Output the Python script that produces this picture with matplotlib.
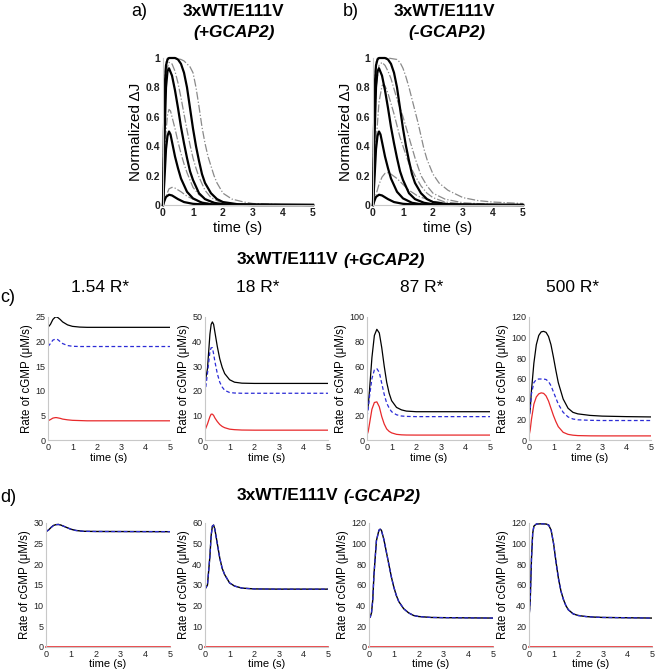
import numpy as np
import matplotlib.pyplot as plt

plt.rcParams['font.family'] = ['Liberation Sans', 'DejaVu Sans']

W, H = 655, 672

# ---------- data: top panels (normalized dJ) ----------
# solid black curves (same model in a and b)
t_s1 = [0, 0.05, 0.1, 0.2, 0.3, 0.5, 0.7, 1.0, 1.5, 2, 5]
v_s1 = [0, 0.03, 0.055, 0.07, 0.065, 0.04, 0.02, 0.008, 0.002, 0, 0]
t_s2 = [0, 0.05, 0.1, 0.15, 0.2, 0.25, 0.3, 0.4, 0.5, 0.6, 0.8, 1.0, 1.3, 1.6, 2, 3, 5]
v_s2 = [0, 0.18, 0.38, 0.47, 0.5, 0.48, 0.43, 0.33, 0.25, 0.18, 0.09, 0.045, 0.015, 0.005, 0.002, 0, 0]
t_s3 = [0, 0.05, 0.1, 0.15, 0.2, 0.3, 0.4, 0.5, 0.6, 0.7, 0.8, 0.9, 1.0, 1.2, 1.4, 1.7, 2, 3, 5]
v_s3 = [0, 0.45, 0.8, 0.91, 0.93, 0.88, 0.78, 0.66, 0.53, 0.42, 0.32, 0.23, 0.17, 0.08, 0.04, 0.015, 0.005, 0, 0]
t_s4 = [0, 0.03, 0.07, 0.1, 0.15, 0.2, 0.3, 0.4, 0.5, 0.6, 0.7, 0.8, 0.9, 1.0, 1.1, 1.2, 1.3, 1.4, 1.6, 1.8, 2.0, 2.5, 5]
v_s4 = [0, 0.5, 0.85, 0.95, 0.99, 1.0, 1.0, 1.0, 0.99, 0.96, 0.9, 0.8, 0.66, 0.52, 0.4, 0.3, 0.21, 0.15, 0.08, 0.04, 0.02, 0.005, 0]

# dash-dot gray curves, panel a (+GCAP2)
t_a1 = [0, 0.1, 0.2, 0.3, 0.4, 0.6, 0.8, 1.0, 1.3, 1.6, 2, 3, 5]
v_a1 = [0, 0.06, 0.11, 0.12, 0.115, 0.09, 0.06, 0.04, 0.02, 0.01, 0.005, 0, 0]
t_a2 = [0, 0.05, 0.1, 0.15, 0.2, 0.25, 0.3, 0.4, 0.5, 0.6, 0.7, 0.8, 1.0, 1.2, 1.5, 1.8, 2.2, 3, 5]
v_a2 = [0, 0.25, 0.5, 0.61, 0.65, 0.64, 0.6, 0.52, 0.43, 0.35, 0.28, 0.22, 0.12, 0.07, 0.03, 0.012, 0.005, 0, 0]
t_a3 = [0, 0.05, 0.1, 0.15, 0.2, 0.3, 0.4, 0.5, 0.6, 0.7, 0.8, 0.9, 1.0, 1.1, 1.2, 1.4, 1.6, 1.9, 2.3, 3, 5]
v_a3 = [0, 0.5, 0.85, 0.94, 0.97, 0.96, 0.91, 0.83, 0.73, 0.62, 0.51, 0.41, 0.32, 0.25, 0.19, 0.1, 0.05, 0.02, 0.007, 0, 0]
t_a4 = [0, 0.03, 0.07, 0.1, 0.15, 0.2, 0.4, 0.6, 0.7, 0.8, 0.9, 1.0, 1.1, 1.2, 1.3, 1.4, 1.5, 1.7, 1.8, 2.0, 2.3, 2.7, 3, 4, 5]
v_a4 = [0, 0.6, 0.9, 0.97, 1.0, 1.0, 1.0, 0.99, 0.98, 0.96, 0.94, 0.9, 0.8, 0.67, 0.53, 0.42, 0.33, 0.2, 0.15, 0.08, 0.04, 0.02, 0.01, 0.002, 0]

# dash-dot gray curves, panel b (-GCAP2)
t_b1 = [0, 0.1, 0.2, 0.3, 0.4, 0.5, 0.6, 0.8, 1.0, 1.2, 1.5, 2, 2.5, 3, 4, 5]
v_b1 = [0, 0.07, 0.14, 0.19, 0.215, 0.22, 0.21, 0.18, 0.14, 0.1, 0.06, 0.025, 0.01, 0.005, 0.001, 0]
t_b2 = [0, 0.05, 0.1, 0.2, 0.3, 0.35, 0.4, 0.5, 0.6, 0.7, 0.8, 0.9, 1.0, 1.1, 1.2, 1.4, 1.6, 1.8, 2.0, 2.4, 3, 4, 5]
v_b2 = [0, 0.2, 0.42, 0.7, 0.81, 0.82, 0.81, 0.76, 0.69, 0.62, 0.54, 0.46, 0.4, 0.34, 0.28, 0.2, 0.13, 0.08, 0.05, 0.02, 0.008, 0.002, 0]
t_b3 = [0, 0.05, 0.1, 0.2, 0.3, 0.4, 0.5, 0.6, 0.7, 0.8, 0.9, 1.0, 1.1, 1.2, 1.4, 1.6, 1.8, 2.0, 2.4, 3, 4, 5]
v_b3 = [0, 0.45, 0.8, 0.95, 0.97, 0.95, 0.91, 0.86, 0.79, 0.72, 0.66, 0.6, 0.53, 0.46, 0.32, 0.2, 0.13, 0.08, 0.04, 0.015, 0.004, 0]
t_b4 = [0, 0.03, 0.07, 0.1, 0.15, 0.2, 0.5, 0.8, 0.9, 1.0, 1.1, 1.2, 1.3, 1.4, 1.5, 1.6, 1.7, 1.8, 2.0, 2.2, 2.5, 3, 3.5, 4, 5]
v_b4 = [0, 0.6, 0.9, 0.97, 1.0, 1.0, 1.0, 0.99, 0.97, 0.93, 0.87, 0.8, 0.72, 0.64, 0.56, 0.47, 0.38, 0.31, 0.21, 0.15, 0.1, 0.05, 0.03, 0.02, 0.01]

# ---------- data: row c (+GCAP2), rate of cGMP ----------
r_labels = ['1.54 R*', '18 R*', '87 R*', '500 R*']

t_c1 = [0, 0.1, 0.2, 0.3, 0.35, 0.4, 0.5, 0.6, 0.8, 1.0, 1.3, 1.6, 2, 5]
k_c1 = [22.9, 23.5, 24.5, 25.0, 25.0, 24.9, 24.5, 24.0, 23.4, 23.1, 22.95, 22.9, 22.9, 22.9]
b_c1 = [19, 19.6, 20.3, 20.5, 20.5, 20.4, 20.0, 19.6, 19.2, 19.05, 19, 19, 19, 19]
r_c1 = [3.9, 4.15, 4.45, 4.55, 4.55, 4.5, 4.4, 4.25, 4.1, 4.0, 3.95, 3.9, 3.9, 3.9]

t_c2 = [0, 0.1, 0.2, 0.25, 0.3, 0.35, 0.4, 0.5, 0.6, 0.7, 0.8, 1.0, 1.2, 1.5, 2, 3, 5]
k_c2 = [23, 29, 43, 47, 48, 47, 44, 38, 33, 29.5, 27, 24.5, 23.5, 23.1, 23, 23, 23]
b_c2 = [19, 27, 36, 37.5, 37.5, 35, 32, 27, 23.5, 21.5, 20.2, 19.3, 19.1, 19, 19, 19, 19]
r_c2 = [4, 6.5, 9.5, 10.5, 10.5, 10, 9, 7.5, 6.3, 5.5, 5, 4.4, 4.2, 4.05, 4, 4, 4]

t_c3 = [0, 0.05, 0.1, 0.2, 0.3, 0.4, 0.5, 0.6, 0.7, 0.8, 0.9, 1.0, 1.2, 1.4, 1.6, 2, 3, 5]
k_c3 = [23, 28, 40, 67, 85, 90, 87, 75, 60, 47, 38, 32, 26.5, 24.5, 23.5, 23, 23, 23]
b_c3 = [19, 25, 35, 50, 57, 58, 55, 46, 37, 30, 26, 23, 20.5, 19.5, 19.2, 19, 19, 19]
r_c3 = [4, 7, 13, 25, 30.5, 31, 27, 19, 13, 9, 7, 5.8, 4.6, 4.2, 4.05, 4, 4, 4]

t_c4 = [0, 0.05, 0.1, 0.2, 0.3, 0.4, 0.5, 0.6, 0.7, 0.8, 0.9, 1.0, 1.1, 1.2, 1.4, 1.6, 1.8, 2.0, 2.5, 3, 4, 5]
k_c4 = [23, 30, 48, 75, 93, 102, 105.5, 106, 105, 101, 93, 81, 68, 56, 40, 31, 27, 25.5, 24, 23.3, 22.8, 22.5]
b_c4 = [19, 30, 45, 56, 59, 59.5, 59.5, 59.5, 59, 57, 53, 47, 41, 35, 27, 22.5, 20.5, 19.7, 19.2, 19, 19, 19]
r_c4 = [4, 10, 20, 35, 42, 45, 46, 45.5, 43, 38, 31, 24, 18, 13, 7.5, 5.5, 4.7, 4.3, 4.05, 4, 4, 4]

# ---------- data: row d (-GCAP2) ----------
t_d1 = [0, 0.1, 0.2, 0.3, 0.4, 0.5, 0.6, 0.8, 1.0, 1.2, 1.5, 2, 5]
k_d1 = [27.9, 28.3, 28.9, 29.4, 29.6, 29.65, 29.5, 29.0, 28.5, 28.2, 28.0, 27.95, 27.9]
t_d2 = [0, 0.1, 0.2, 0.25, 0.3, 0.35, 0.4, 0.5, 0.6, 0.7, 0.8, 1.0, 1.2, 1.5, 2, 3, 5]
k_d2 = [28, 30, 44, 54, 58.5, 59, 57, 50, 43, 38, 35, 31, 29.5, 28.5, 28.1, 28, 28]
t_d3 = [0, 0.05, 0.1, 0.15, 0.2, 0.3, 0.4, 0.45, 0.5, 0.6, 0.7, 0.8, 0.9, 1.0, 1.1, 1.2, 1.4, 1.6, 1.8, 2.0, 2.5, 3, 4, 5]
k_d3 = [28, 29, 33, 45, 70, 103, 113, 114, 113, 104, 92, 80, 68, 58, 50, 44, 37, 33, 30.5, 29.5, 28.6, 28.4, 28.2, 28]
t_d4 = [0, 0.05, 0.1, 0.15, 0.2, 0.3, 0.5, 0.7, 0.8, 0.9, 1.0, 1.1, 1.2, 1.3, 1.4, 1.5, 1.6, 1.8, 2.0, 2.3, 2.6, 3, 4, 5]
k_d4 = [28, 45, 85, 110, 117, 119, 119.2, 119, 118, 113, 100, 82, 66, 54, 46, 40, 36, 32, 30.5, 29.5, 29, 28.6, 28.3, 28]

c_ymax = [25, 50, 100, 120]
c_ystep = [5, 10, 20, 20]
d_ymax = [30, 60, 120, 120]
d_ystep = [5, 10, 20, 20]

fig = plt.figure(figsize=(W / 100, H / 100), dpi=100)


def ax_at(l, r, t, b):
    return fig.add_axes([l / W, 1 - b / H, (r - l) / W, (b - t) / H])


def fig_text(x, y, s, **kw):
    fig.text(x / W, 1 - y / H, s, ha=kw.pop('ha', 'center'), va=kw.pop('va', 'center'), **kw)


def style(ax, tick_size, bold):
    for side in ['top', 'right']:
        ax.spines[side].set_visible(False)
    for side in ['left', 'bottom']:
        ax.spines[side].set_color('#c8c8c8')
        ax.spines[side].set_linewidth(0.8)
    ax.tick_params(length=0, pad=2, labelsize=tick_size, colors='#222222')
    for lab in ax.get_xticklabels() + ax.get_yticklabels():
        lab.set_fontweight('bold' if bold else 'normal')


# ---------- top panels ----------
top = [
    (ax_at(163, 313, 58, 205), [(t_a1, v_a1), (t_a2, v_a2), (t_a3, v_a3), (t_a4, v_a4)]),
    (ax_at(373, 523, 58, 205), [(t_b1, v_b1), (t_b2, v_b2), (t_b3, v_b3), (t_b4, v_b4)]),
]
for ax, dashes in top:
    for t, v in dashes:
        ax.plot(t, v, color='#8a8a8a', lw=0.9, ls='-.', clip_on=False)
    for t, v in [(t_s1, v_s1), (t_s2, v_s2), (t_s3, v_s3), (t_s4, v_s4)]:
        ax.plot(t, v, color='black', lw=1.6, clip_on=False)
    ax.set_xlim(0, 5)
    ax.set_ylim(0, 1)
    ax.set_xticks(range(6))
    ax.set_yticks([0, 0.2, 0.4, 0.6, 0.8, 1])
    ax.set_yticklabels(['0', '0.2', '0.4', '0.6', '0.8', '1'])
    ax.set_xlabel('time (s)', fontsize=10.5, labelpad=2)
    ax.set_ylabel('Normalized ΔJ', fontsize=11, labelpad=2)
    style(ax, 7.5, True)

fig_text(139, 12, 'a)', fontsize=13)
fig_text(233, 12, '3xWT/E111V', fontsize=12.5, fontweight='bold')
fig_text(234, 33, '(+GCAP2)', fontsize=12.5, fontweight='bold', style='italic')
fig_text(351, 12, 'b)', fontsize=13)
fig_text(444, 12, '3xWT/E111V', fontsize=12.5, fontweight='bold')
fig_text(447, 33, '(-GCAP2)', fontsize=12.5, fontweight='bold', style='italic')

# ---------- row c ----------
c_boxes = [(48, 170), (205, 328), (367, 490), (529, 651)]
c_data = [(t_c1, k_c1, b_c1, r_c1), (t_c2, k_c2, b_c2, r_c2),
          (t_c3, k_c3, b_c3, r_c3), (t_c4, k_c4, b_c4, r_c4)]
c_centers = [100, 258, 422, 573]
for i in range(4):
    l, r = c_boxes[i]
    ax = ax_at(l, r, 317, 440)
    t, k, b, rd = c_data[i]
    ax.plot(t, k, color='black', lw=0.9)
    ax.plot(t, b, color='#2b2bd6', lw=0.9, ls=(0, (3, 2)))
    ax.plot(t, rd, color='#e8292b', lw=0.9)
    ax.set_xlim(0, 5)
    ax.set_ylim(0, c_ymax[i])
    ax.set_xticks(range(6))
    ax.set_yticks(np.arange(0, c_ymax[i] + 1, c_ystep[i]))
    ax.set_xlabel('time (s)', fontsize=8, labelpad=1)
    ax.set_ylabel('Rate of cGMP (μM/s)', fontsize=8.3, labelpad=1.5)
    style(ax, 6.5, False)
    fig_text(c_centers[i], 288, r_labels[i], fontsize=12.5)

fig_text(8, 298, 'c)', fontsize=13)
fig_text(338, 260, '3xWT/E111V', fontsize=12.5, fontweight='bold', ha='right')
fig_text(343, 260, '(+GCAP2)', fontsize=12.5, fontweight='bold', style='italic', ha='left')

# ---------- row d ----------
d_boxes = [(46, 170), (205, 328), (369, 493), (529, 652)]
d_data = [(t_d1, k_d1), (t_d2, k_d2), (t_d3, k_d3), (t_d4, k_d4)]
for i in range(4):
    l, r = d_boxes[i]
    ax = ax_at(l, r, 523, 647)
    t, k = d_data[i]
    ax.plot(t, k, color='black', lw=1.0)
    ax.plot(t, k, color='#2b2bd6', lw=0.9, ls=(0, (3, 2)))
    ax.plot([0, 5], [0, 0], color='#e8292b', lw=1.2, clip_on=False)
    ax.set_xlim(0, 5)
    ax.set_ylim(0, d_ymax[i])
    ax.set_xticks(range(6))
    ax.set_yticks(np.arange(0, d_ymax[i] + 1, d_ystep[i]))
    ax.set_xlabel('time (s)', fontsize=8, labelpad=0.5)
    ax.set_ylabel('Rate of cGMP (μM/s)', fontsize=8.3, labelpad=1.5)
    style(ax, 6.5, False)

fig_text(8, 498, 'd)', fontsize=13)
fig_text(338, 496, '3xWT/E111V', fontsize=12.5, fontweight='bold', ha='right')
fig_text(343, 496, '(-GCAP2)', fontsize=12.5, fontweight='bold', style='italic', ha='left')

fig.savefig('out.png', dpi=100)
